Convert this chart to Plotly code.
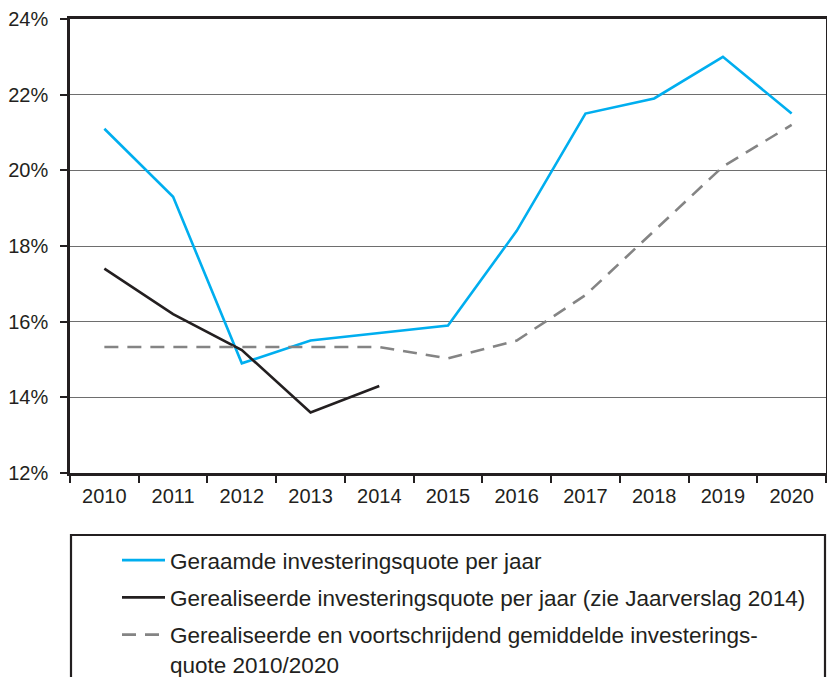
import plotly.graph_objects as go

years = ["2010", "2011", "2012", "2013", "2014", "2015", "2016", "2017", "2018", "2019", "2020"]
geraamd = [21.1, 19.3, 14.9, 15.5, 15.7, 15.9, 18.4, 21.5, 21.9, 23.0, 21.5]
gerealiseerd_years = ["2010", "2011", "2012", "2013", "2014"]
gerealiseerd = [17.4, 16.2, 15.25, 13.6, 14.3]
voortschrijdend = [15.33, 15.33, 15.33, 15.33, 15.33, 15.03, 15.5, 16.7, 18.4, 20.1, 21.2]

names = [
    "Geraamde investeringsquote per jaar",
    "Gerealiseerde investeringsquote per jaar (zie Jaarverslag 2014)",
    "Gerealiseerde en voortschrijdend gemiddelde investerings-<br>quote 2010/2020",
]

W, H = 827, 677
ML, MR, MT, MB = 70, 1, 19, 204
PW, PH = W - ML - MR, H - MT - MB

dark = "#231f20"
font_family = "Liberation Sans, Arial, Helvetica, sans-serif"

fig = go.Figure()
fig.add_trace(go.Scatter(x=years, y=geraamd, mode="lines", name=names[0],
                         line=dict(color="#00aeef", width=2.6), legendgroup="a"))
fig.add_trace(go.Scatter(x=gerealiseerd_years, y=gerealiseerd, mode="lines", name=names[1],
                         line=dict(color=dark, width=2.6), legendgroup="b"))
fig.add_trace(go.Scatter(x=years, y=voortschrijdend, mode="lines", name=names[2],
                         line=dict(color="#848484", width=2.6, dash="14px,9px"), legendgroup="c"))

def px_to_paper_x(px):
    return (px - ML) / PW

def px_to_paper_y(py):
    return (H - MB - py) / PH

fig.update_layout(
    width=W, height=H,
    margin=dict(l=ML, r=MR, t=MT, b=MB, autoexpand=False),
    paper_bgcolor="white", plot_bgcolor="white",
    font=dict(family=font_family, color=dark, size=20),
    showlegend=True,
    legend=dict(
        x=px_to_paper_x(117), y=px_to_paper_y(539), xanchor="left", yanchor="top",
        bgcolor="rgba(0,0,0,0)", borderwidth=0,
        font=dict(size=22.5, family=font_family, color=dark),
        itemwidth=43, tracegroupgap=5, traceorder="grouped", valign="top",
    ),
    xaxis=dict(
        type="category", range=[-0.5, 10.5], tickson="boundaries",
        ticks="outside", ticklen=7, tickwidth=1.5, tickcolor=dark,
        showline=True, linewidth=2.6, linecolor=dark, mirror=True,
        showgrid=False, zeroline=False, ticklabelstandoff=3,
        tickfont=dict(size=20, color=dark),
    ),
    yaxis=dict(
        range=[12, 24], dtick=2, tick0=12, ticksuffix="%",
        ticks="outside", ticklen=7, tickwidth=1.5, tickcolor=dark,
        showline=True, linewidth=2.6, linecolor=dark, mirror=True,
        showgrid=True, gridcolor="#6e6e6e", gridwidth=1.2, zeroline=False,
        ticklabelstandoff=8, tickfont=dict(size=20, color=dark),
    ),
    shapes=[dict(
        type="rect", xref="paper", yref="paper",
        x0=px_to_paper_x(71), x1=px_to_paper_x(825),
        y0=px_to_paper_y(535), y1=px_to_paper_y(700),
        line=dict(color=dark, width=2.2), fillcolor="rgba(0,0,0,0)", layer="above",
    )],
)

fig.write_html("out.html",
               config={"displayModeBar": False},
               post_script="document.body.style.margin='0';document.body.style.overflow='hidden';")
